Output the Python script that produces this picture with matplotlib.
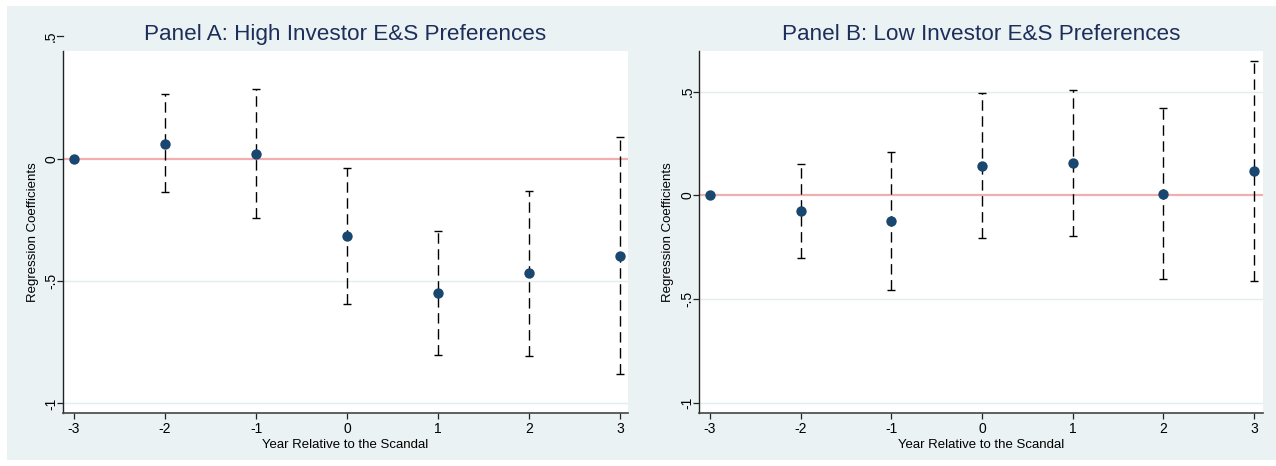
import numpy as np
import matplotlib
matplotlib.use("Agg")
import matplotlib.pyplot as plt
from matplotlib.patches import Rectangle

plt.rcParams['font.family'] = ['Liberation Sans', 'DejaVu Sans']

years = [-3, -2, -1, 0, 1, 2, 3]
ci_years = [-2, -1, 0, 1, 2, 3]

# Panel A: high investor E&S preferences
coef_a = [0.0, 0.061, 0.019, -0.316, -0.550, -0.469, -0.396]
lo_a = [-0.136, -0.244, -0.595, -0.803, -0.806, -0.881]
hi_a = [0.263, 0.285, -0.040, -0.297, -0.134, 0.089]

# Panel B: low investor E&S preferences
coef_b = [0.0, -0.075, -0.123, 0.143, 0.155, 0.008, 0.117]
lo_b = [-0.303, -0.458, -0.208, -0.196, -0.405, -0.415]
hi_b = [0.152, 0.208, 0.492, 0.508, 0.423, 0.649]

yticks_a = [0, -0.5, -1]
yticks_b = [0.5, 0, -0.5, -1]
tick_text = {0.5: ".5", 0: "0", -0.5: "-.5", -1: "-1"}

bg = "#EAF2F3"
navy = "#1A476F"
title_col = "#1E2E5A"

fig = plt.figure(figsize=(12.76, 4.66), dpi=100)
fig.patch.set_facecolor("white")
fig.add_artist(Rectangle((7 / 1276, 6 / 466), 1 - 7 / 1276, 1 - 12 / 466,
                         transform=fig.transFigure, facecolor=bg,
                         edgecolor="none", zorder=0))


def draw_panel(ax, coef, lo, hi, ylim, xlim, yticks, title, ylab_x, extra=None):
    ax.set_facecolor("white")
    ax.set_xlim(*xlim)
    ax.set_ylim(*ylim)
    for y in yticks:
        if y != 0:
            ax.axhline(y, color="#E3ECEE", lw=1.0, zorder=1)
    ax.axhline(0, color="#F2AEAE", lw=1.6, zorder=2)

    lo = np.array(lo)
    hi = np.array(hi)
    mid = (lo + hi) / 2
    eb = ax.errorbar(ci_years, mid, yerr=[mid - lo, hi - mid], fmt="none",
                     ecolor="black", elinewidth=1.0, capsize=3.2,
                     capthick=1.0, zorder=3)
    for col in eb[2]:
        col.set_linestyle((0, (7.5, 4)))
    ax.scatter(years, coef, s=56, color=navy, zorder=4, linewidths=0)

    ax.spines["top"].set_visible(False)
    ax.spines["right"].set_visible(False)
    ax.spines["left"].set_color("#222222")
    ax.spines["bottom"].set_color("#444444")
    ax.spines["left"].set_linewidth(1.0)
    ax.spines["bottom"].set_linewidth(1.2)

    ax.set_xticks(years)
    ax.set_xticklabels([str(y) for y in years], fontsize=10)
    ax.set_yticks(yticks)
    ax.set_yticklabels([tick_text[y] for y in yticks], fontsize=10,
                       rotation=90, va="center")
    ax.tick_params(axis="x", length=4.5, width=0.9, color="#222222", pad=2)
    ax.tick_params(axis="y", length=4.5, width=0.9, color="#222222", pad=-1)
    ax.set_xlabel("Year Relative to the Scandal", fontsize=9.5, labelpad=2)
    ax.set_ylabel("Regression Coefficients", fontsize=9.5)
    ax.yaxis.set_label_coords(ylab_x, 0.5)

    if extra is not None:
        tr = ax.get_yaxis_transform()
        ax.plot([-0.011, 0], [extra, extra], transform=tr, color="#222222",
                lw=0.9, clip_on=False)
        ax.text(-0.0095, extra, tick_text[extra], transform=tr, fontsize=10,
                rotation=90, ha="right", va="center", clip_on=False)

    ax.set_title(title, fontsize=16.2, color=title_col, pad=8)


ax_a = fig.add_axes([63 / 1276, 53 / 466, 565 / 1276, 362.3 / 466])
ax_b = fig.add_axes([699.3 / 1276, 53 / 466, 564 / 1276, 362.3 / 466])

draw_panel(ax_a, coef_a, lo_a, hi_a, (-1.039, 0.441), (-3.121, 3.085),
           yticks_a, "Panel A: High Investor E&S Preferences", -0.0425,
           extra=0.5)
draw_panel(ax_b, coef_b, lo_b, hi_b, (-1.049, 0.697), (-3.118, 3.102),
           yticks_b, "Panel B: Low Investor E&S Preferences", -0.045)

fig.savefig("out.png", dpi=100, facecolor=fig.get_facecolor())
